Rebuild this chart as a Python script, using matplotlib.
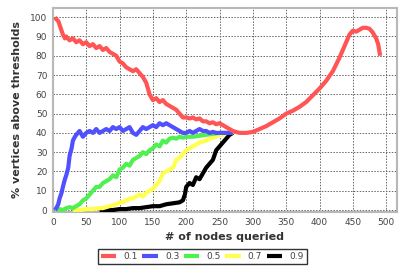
import matplotlib
matplotlib.use("Agg")
import matplotlib.pyplot as plt

# ---- data ----
x01 = [3, 5, 8, 10, 13, 15, 18, 20, 25, 30, 35, 40, 45, 50, 55, 60, 65, 70, 75, 80, 85,
       90, 95, 100, 105, 110, 115, 120, 125, 130, 135, 140, 145, 150, 155, 160, 165, 170,
       175, 180, 185, 190, 195, 200, 205, 210, 215, 220, 225, 230, 235, 240, 245, 250,
       255, 260, 265, 270, 275, 280, 290, 300, 310, 320, 330, 340, 350, 360, 370, 380,
       390, 400, 410, 420, 430, 440, 445, 450, 455, 460, 465, 470, 475, 480, 485, 488,
       490, 491]
y01 = [100, 99, 98, 96, 93, 91, 89, 90, 88, 89, 87, 88, 86, 87, 85, 86, 84, 85, 83, 84, 82,
       81, 80, 77, 76, 74, 73, 72, 73, 71, 69, 66, 60, 57, 58, 56, 57, 55, 54, 53, 52,
       50, 48, 48, 47.5, 48, 47, 47.5, 46, 46, 45, 45.5, 44.5, 45, 44, 43, 42, 41, 40.5,
       40, 40, 40.5, 42, 43.5, 45.5, 47.5, 50, 51.5, 53.5, 56, 59.5, 63, 67, 72, 79, 87,
       91, 93, 92.5, 93.5, 94.5, 94.5, 94, 92, 89, 86, 82, 80]

x03 = [3, 5, 8, 10, 13, 15, 18, 20, 23, 25, 28, 30, 33, 35, 40, 45, 50, 55, 60, 65, 70, 75,
       80, 85, 90, 95, 100, 105, 110, 115, 120, 125, 130, 135, 140, 145, 150, 155, 160,
       165, 170, 175, 180, 185, 190, 195, 200, 205, 210, 215, 220, 225, 230, 235, 240,
       245, 250, 260, 270]
y03 = [0, 1, 3, 6, 9, 12, 16, 18, 22, 28, 32, 36, 38, 39, 41, 38, 40, 41, 40, 42, 40, 41,
       42, 41, 43, 42, 43, 41, 42, 43, 40, 39, 41, 43, 42, 43, 44, 43, 45, 44, 45, 44, 43,
       42, 41, 40, 40, 41, 40, 41, 42, 41, 41, 40, 40.5, 40, 40, 40, 40]

x05 = [5, 10, 15, 20, 25, 30, 35, 40, 45, 50, 55, 60, 65, 70, 75, 80, 85, 90, 95, 100, 105,
       110, 115, 120, 125, 130, 135, 140, 145, 150, 155, 160, 165, 170, 175, 180, 185, 190,
       195, 200, 210, 220, 230, 240, 250, 260, 270]
y05 = [0, 0.5, 0, 1, 1.5, 1, 2, 3, 5, 6, 8, 10, 12, 12, 14, 15, 16, 18, 17, 21, 22, 24, 23,
       26, 27, 28, 30, 29, 31, 32, 34, 33, 36, 35, 37, 37.5, 37, 38, 37.5, 38, 38, 38.5,
       39, 39.5, 40, 40, 40]

x07 = [30, 40, 50, 60, 70, 75, 80, 85, 90, 95, 100, 105, 110, 115, 120, 125, 130, 135, 140,
       145, 150, 155, 160, 165, 170, 175, 180, 185, 190, 195, 200, 205, 210, 215, 220, 225,
       230, 235, 240, 245, 250, 255, 260]
y07 = [0, 0, 0.5, 0.5, 1, 1, 1.5, 2, 2.5, 3, 4, 4, 5, 6, 6, 7, 8, 7, 9, 10, 11, 13, 15, 19,
       20, 21, 22, 26, 27, 29, 31, 32, 33, 34, 35, 35.5, 36, 37, 37.5, 38, 39, 39, 40]

x09 = [70, 80, 90, 100, 110, 120, 130, 140, 150, 160, 170, 180, 190, 195, 198, 200, 205, 210,
       215, 220, 225, 230, 235, 240, 245, 250, 255, 260, 265, 270]
y09 = [0, 0, 0, 0.5, 0.5, 1, 1, 1.5, 2, 2, 3, 3.5, 4, 5, 8, 12, 14, 13, 17, 16, 19, 22, 24,
       26, 31, 33, 35, 37, 39, 40]

labels = ["0.1", "0.3", "0.5", "0.7", "0.9"]
colors = ["#ff5555", "#5050ff", "#50f050", "#ffff50", "#000000"]
series = [(x01, y01), (x03, y03), (x05, y05), (x07, y07), (x09, y09)]

x_ticks = [0, 50, 100, 150, 200, 250, 300, 350, 400, 450, 500]
y_ticks = [0, 10, 20, 30, 40, 50, 60, 70, 80, 90, 100]

# ---- figure ----
fig = plt.figure(figsize=(4.07, 2.69), dpi=100)
ax = fig.add_axes([0.130, 0.212, 0.845, 0.760])

lines = {}
for i in [4, 3, 2, 1, 0]:
    xs, ys = series[i]
    ln, = ax.plot(xs, ys, color=colors[i], lw=3.0, solid_joinstyle="round",
                  solid_capstyle="butt", zorder=3 + (4 - i))
    lines[i] = ln

ax.set_xlim(0, 516)
ax.set_ylim(-1, 105)
ax.set_xticks(x_ticks)
ax.set_yticks(y_ticks)
ax.grid(True, color="#666666", linestyle=(0, (1.5, 1.5)), linewidth=0.7)
ax.set_axisbelow(True)
ax.tick_params(length=0, pad=4, labelsize=6.5, labelcolor="#444444")
for s in ax.spines.values():
    s.set_color("#b8b8b8")
    s.set_linewidth(1.5)

ax.set_xlabel("# of nodes queried", fontsize=8, fontweight="bold", color="#333333",
              labelpad=4)
ax.set_ylabel("% vertices above thresholds", fontsize=8, fontweight="bold",
              color="#333333", labelpad=6)

leg = fig.legend([lines[i] for i in range(5)], labels, loc="lower center",
                 bbox_to_anchor=(0.497, 0.0), ncol=5, frameon=True, fancybox=False,
                 fontsize=6.5, handlelength=1.7, handletextpad=0.8, columnspacing=0.5,
                 borderpad=0.35, labelcolor="#444444")
leg.get_frame().set_edgecolor("#000000")
leg.get_frame().set_linewidth(1.0)

fig.savefig("out.png", dpi=100)
